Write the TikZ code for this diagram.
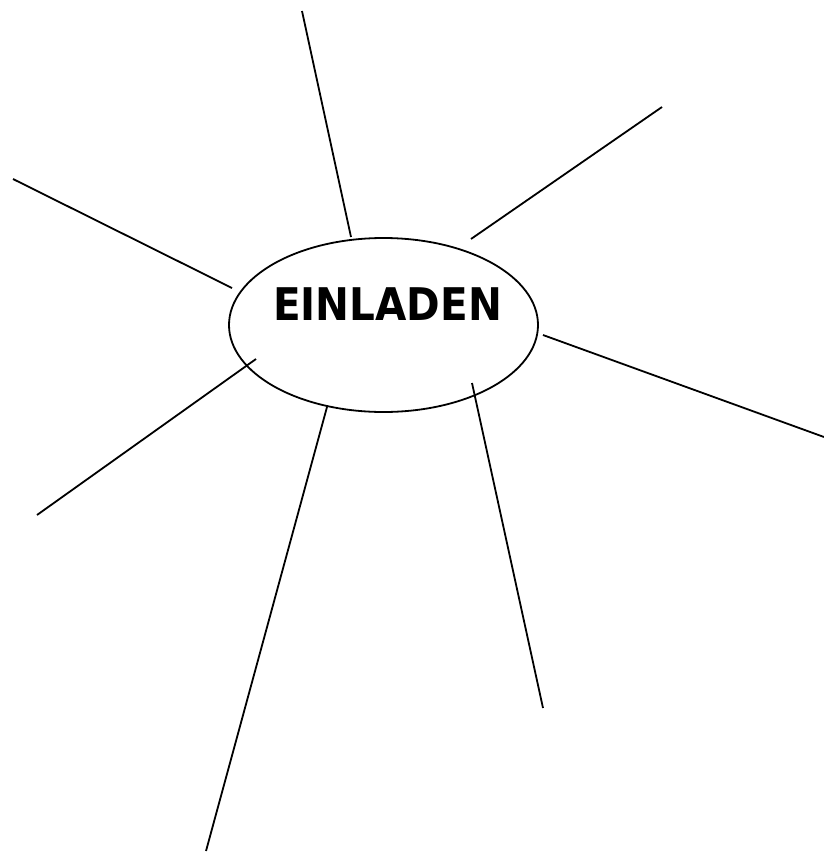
\documentclass[tikz,border=0pt]{standalone}
\usepackage{fontspec}
\setmainfont{DejaVu Sans}
\usetikzlibrary{shapes.geometric}
\begin{document}
\begin{tikzpicture}[x=1pt,y=-1pt,
  ray/.style={draw=black,line width=1.8pt},
  hub/.style={ellipse,draw=black,line width=1.8pt,minimum width=309pt,minimum height=174pt,inner sep=0pt}]
\useasboundingbox (0,0) rectangle (824,852);
\node[hub] (c) at (383.5,325) {};
\node[font=\bfseries\fontsize{45}{50}\selectfont,anchor=base] (t) at (387.5,320) {\scalebox{0.9}[1]{EINLADEN}};
\coordinate (a1) at (302,11);    \coordinate (b1) at (351,237);
\coordinate (a2) at (662,107);   \coordinate (b2) at (471,239);
\coordinate (a3) at (13,179);    \coordinate (b3) at (232,288);
\coordinate (a4) at (824,437);   \coordinate (b4) at (543,335);
\coordinate (a5) at (37,515);    \coordinate (b5) at (256,359);
\coordinate (a6) at (206,851);   \coordinate (b6) at (327,407);
\coordinate (a7) at (543,708);   \coordinate (b7) at (472,383);
\foreach \i in {1,...,7} {\draw[ray] (a\i) -- (b\i);}
\end{tikzpicture}
\end{document}
